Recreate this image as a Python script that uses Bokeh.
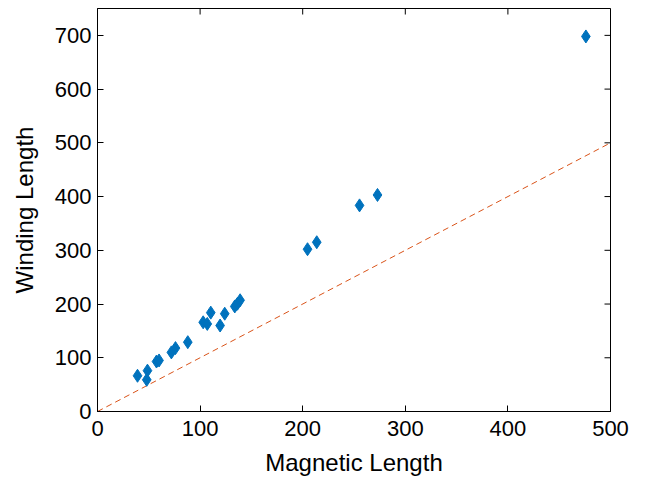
import math
from bokeh.plotting import figure
from bokeh.models import Range1d, FixedTicker
from bokeh.embed import file_html
from bokeh.resources import INLINE

magnetic_length = [39, 48.7, 48, 57.5, 60, 72, 76, 88, 103, 107, 110.4, 119.5, 124,
                   133.8, 136.4, 139, 204.7, 213.7, 255.4, 272.9, 476]
winding_length = [66.5, 76, 59, 93, 95, 110, 118, 129, 166, 163, 184, 160, 182,
                  195.5, 200.5, 207, 302, 315, 383.6, 403, 698]
ref_line = [0, 500]
x_ticks = [0, 100, 200, 300, 400, 500]
y_ticks = [0, 100, 200, 300, 400, 500, 600, 700]
x_max = 500
y_max = 750

FONT = "Liberation Sans"

p = figure(frame_width=513, frame_height=403, output_backend="svg", toolbar_location=None,
           x_range=Range1d(0, x_max), y_range=Range1d(0, y_max),
           min_border_left=97, min_border_top=8, min_border_right=30, min_border_bottom=0)
p.xgrid.visible = False
p.ygrid.visible = False
p.outline_line_color = "black"
p.outline_line_width = 1

p.line(ref_line, ref_line, line_color="#D95319", line_dash="6 4", line_width=1)
p.scatter(magnetic_length, winding_length, marker="diamond", size=13,
          fill_color="#0072BD", line_color="#0072BD", line_width=1)

# inward ticks on top and right edges (half of each dash is clipped by the frame)
p.scatter(x_ticks, [y_max] * len(x_ticks), marker="dash", size=12, angle=math.pi / 2,
          line_color="black", line_width=1)
p.scatter([x_max] * len(y_ticks), y_ticks, marker="dash", size=12,
          line_color="black", line_width=1)

for ax in (p.xaxis[0], p.yaxis[0]):
    ax.major_tick_in = 6
    ax.major_tick_out = 0
    ax.minor_tick_in = 0
    ax.minor_tick_out = 0
    ax.axis_line_color = "black"
    ax.major_tick_line_color = "black"
    ax.major_label_text_font = FONT
    ax.major_label_text_font_size = "22px"
    ax.major_label_text_color = "black"
    ax.axis_label_text_font = FONT
    ax.axis_label_text_font_size = "24px"
    ax.axis_label_text_font_style = "normal"
    ax.axis_label_text_color = "black"

p.xaxis.ticker = FixedTicker(ticks=x_ticks)
p.yaxis.ticker = FixedTicker(ticks=y_ticks)
p.xaxis.axis_label = "Magnetic Length"
p.yaxis.axis_label = "Winding Length"
p.xaxis[0].major_label_standoff = 9
p.yaxis[0].major_label_standoff = 6
p.xaxis[0].axis_label_standoff = 10
p.yaxis[0].axis_label_standoff = 14

open("out.html", "w").write(file_html(p, INLINE))
